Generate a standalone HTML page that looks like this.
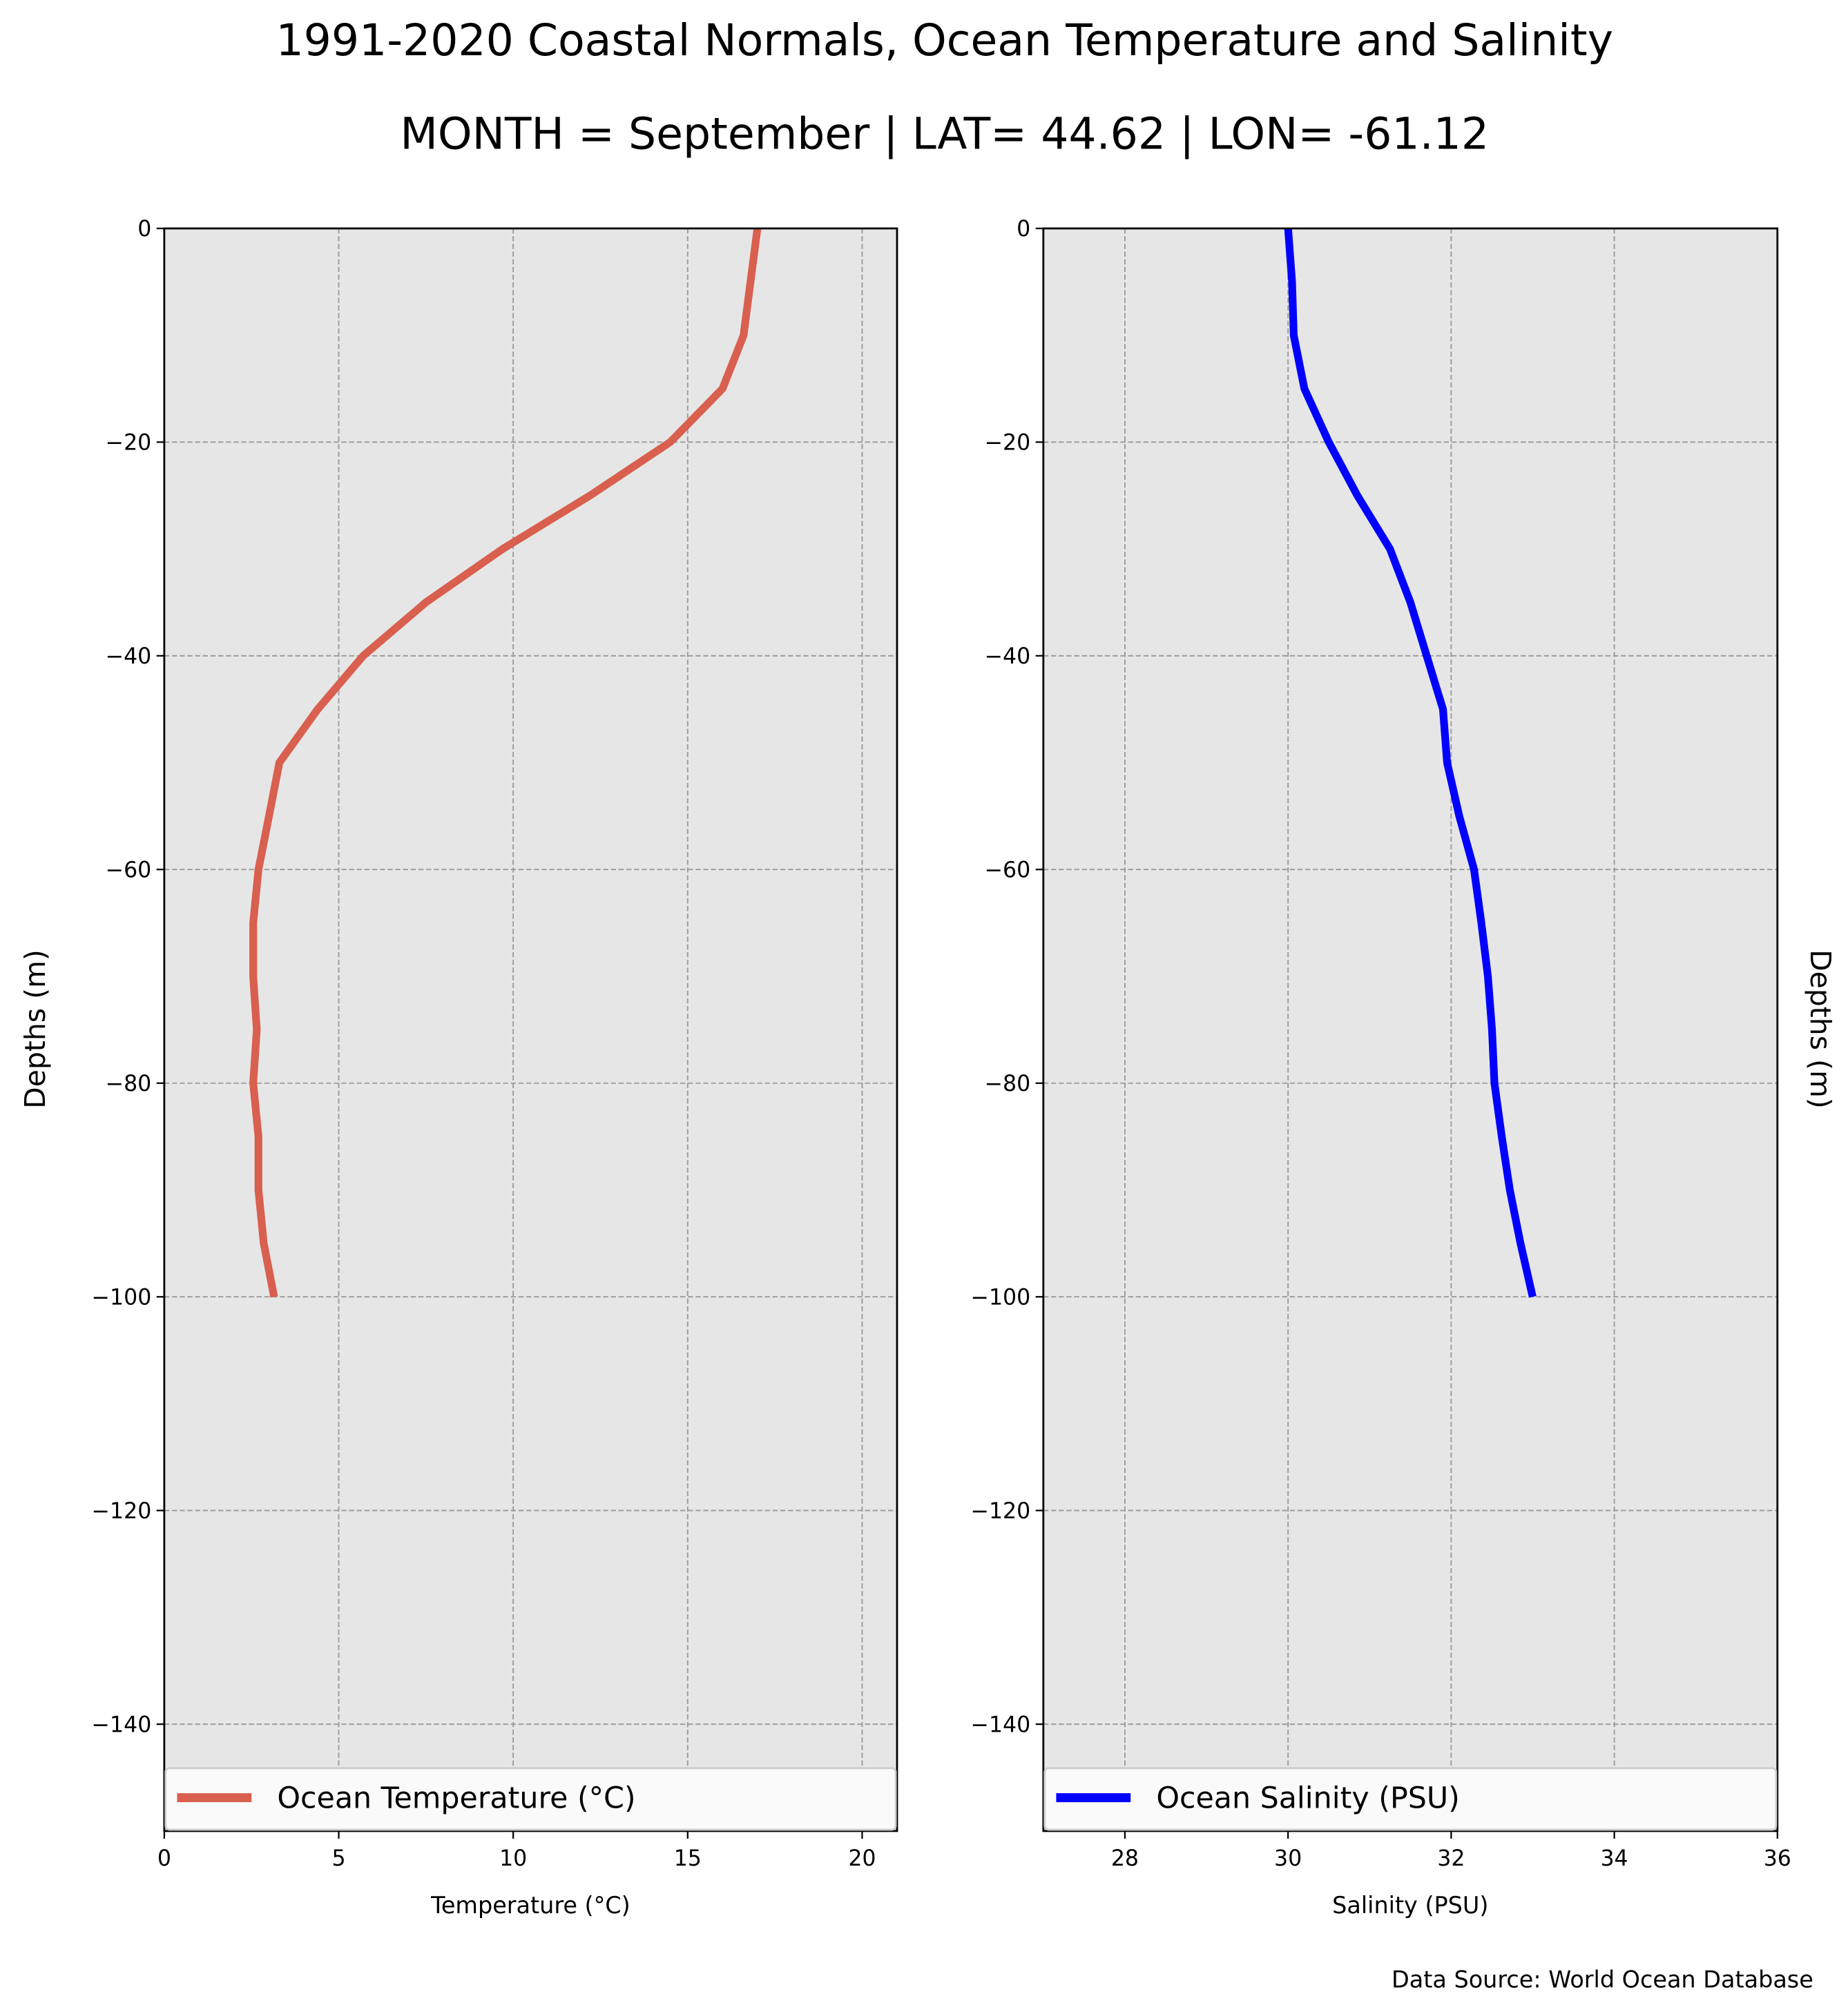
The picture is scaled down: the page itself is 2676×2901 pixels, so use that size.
<!DOCTYPE html>
<html><head><meta charset="utf-8"><style>
html,body{margin:0;padding:0;background:#fff}
svg{display:block;font-family:"DejaVu Sans","Liberation Sans",sans-serif}
</style></head><body>
<svg id="chart" width="2676" height="2901" viewBox="0 0 1440 1561" xmlns="http://www.w3.org/2000/svg">
<text x="736" y="43" font-size="34" text-anchor="middle">1991-2020 Coastal Normals, Ocean Temperature and Salinity</text>
<text x="736" y="116" font-size="34" text-anchor="middle">MONTH = September | LAT= 44.62 | LON= -61.12</text>
<text x="1413" y="1549" font-size="18" text-anchor="end">Data Source: World Ocean Database</text>
<g id="g"></g>
</svg>
<script>
const depths = [0,-5,-10,-15,-20,-25,-30,-35,-40,-45,-50,-55,-60,-65,-70,-75,-80,-85,-90,-95,-100];
const temperature = [17.0,16.8,16.6,16.0,14.5,12.2,9.7,7.5,5.7,4.4,3.3,3.0,2.7,2.55,2.55,2.65,2.55,2.7,2.7,2.85,3.15];
const salinity = [30.0,30.05,30.07,30.2,30.5,30.85,31.25,31.5,31.7,31.9,31.95,32.1,32.28,32.37,32.45,32.5,32.53,32.62,32.72,32.85,33.0];
const yTicks = [0,-20,-40,-60,-80,-100,-120,-140];
const tempTicks = [0,5,10,15,20];
const salTicks = [28,30,32,34,36];

const NS="http://www.w3.org/2000/svg";
const g=document.getElementById('g');
function mk(tag,attrs,parent){const e=document.createElementNS(NS,tag);for(const k in attrs)e.setAttribute(k,attrs[k]);(parent||g).appendChild(e);return e;}
const yTop=178,yBot=1427;
const yScale=d=>yTop+(0-d)/150*(yBot-yTop);

function panel(x0,x1,xmin,xmax,xTicks,vals,color,legendText,xlabel,name,rightLabel){
  const xs=v=>x0+(v-xmin)/(xmax-xmin)*(x1-x0);
  const grp=mk('g',{});
  
  
  const bg=mk('rect',{x:x0,y:yTop,width:x1-x0,height:yBot-yTop,fill:'#e6e6e6'},grp);
  
  
  yTicks.forEach(t=>{
    const y=yScale(t);
    const gl=mk('line',{x1:x0,x2:x1,y1:y,y2:y,stroke:'#999',"stroke-width":1,"stroke-dasharray":"4,2"},grp);
    
    
    const tk=mk('line',{x1:x0-6,x2:x0,y1:y,y2:y,stroke:'#000',"stroke-width":1.2},grp);
    
    
    const tl=mk('text',{x:x0-10,y:y+6,"font-size":17,"text-anchor":"end"},grp);
    tl.textContent=(t<0?'\u2212'+(-t):t);
    
    
  });
  xTicks.forEach(t=>{
    const x=xs(t);
    const gl=mk('line',{x1:x,x2:x,y1:yTop,y2:yBot,stroke:'#999',"stroke-width":1,"stroke-dasharray":"4,2"},grp);
    
    
    const tk=mk('line',{x1:x,x2:x,y1:yBot,y2:yBot+6,stroke:'#000',"stroke-width":1.2},grp);
    
    
    const tl=mk('text',{x:x,y:yBot+27,"font-size":17,"text-anchor":"middle"},grp);
    tl.textContent=t;
    
    
  });
  const pts=vals.map((v,i)=>xs(v).toFixed(1)+','+yScale(depths[i]).toFixed(1)).join(' ');
  const ln=mk('polyline',{points:pts,fill:'none',stroke:color,"stroke-width":6,"stroke-linejoin":"round"},grp);
  
  
  const frame=mk('rect',{x:x0,y:yTop,width:x1-x0,height:yBot-yTop,fill:'none',stroke:'#000',"stroke-width":1.5},grp);
  
  
  const lg=mk('g',{},grp);
  
  
  mk('rect',{x:x0+1,y:1378,width:x1-x0-2,height:48,rx:3,fill:'#fafafa',stroke:'#ccc',"stroke-width":1.5},lg);
  mk('line',{x1:x0+10,x2:x0+68,y1:1401,y2:1401,stroke:color,"stroke-width":7},lg);
  const lt=mk('text',{x:x0+88,y:1409,"font-size":23},lg);
  lt.textContent=legendText;
  
  
  const xl=mk('text',{x:(x0+x1)/2,y:1491,"font-size":18,"text-anchor":"middle"},grp);
  xl.textContent=xlabel;
  
  
  const yl=mk('text',{"font-size":22,"text-anchor":"middle",transform:rightLabel?'translate(1411,802) rotate(90)':'translate(35,802) rotate(-90)'},grp);
  yl.textContent='Depths (m)';
  
  
}
panel(128,699,0,21,tempTicks,temperature,'#d95f4e','Ocean Temperature (\u00b0C)','Temperature (\u00b0C)','temperature',false);
panel(813,1385,27,36,salTicks,salinity,'#0000ff','Ocean Salinity (PSU)','Salinity (PSU)','salinity',true);
</script>
</body></html>
